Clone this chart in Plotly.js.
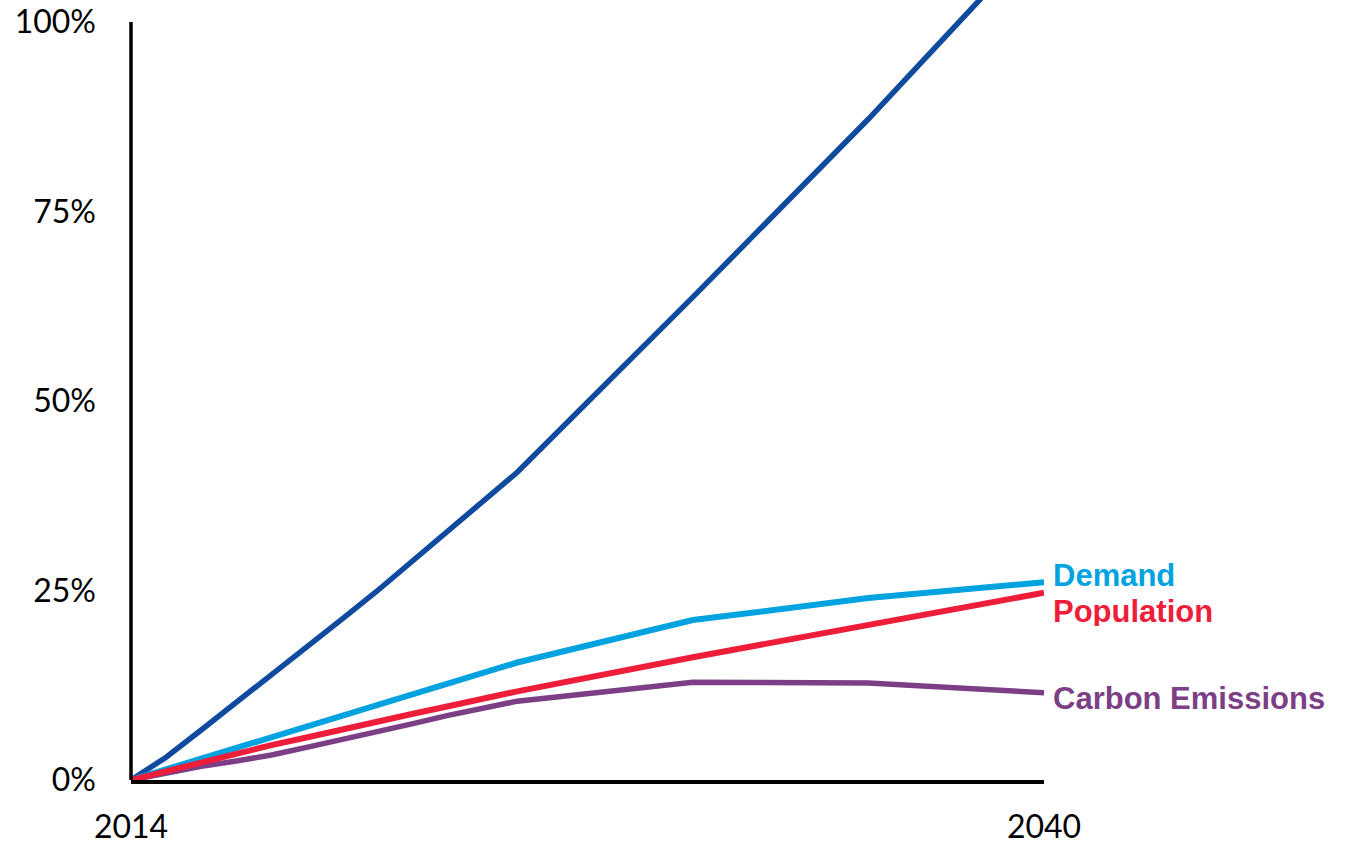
<!DOCTYPE html>
<html>
<head>
<meta charset="utf-8">
<script src="https://cdn.plot.ly/plotly-3.0.1.min.js"></script>
<style>html,body{margin:0;padding:0;background:#fff;}#chart{width:1348px;height:845px;}</style>
</head>
<body>
<div id="chart"></div>
<script>
var years = [2014, 2015, 2016, 2017, 2018, 2019, 2020, 2021, 2022, 2023, 2024, 2025, 2030, 2035, 2040];
var gdp        = [0, 0.030, 0.066, 0.102, 0.138, 0.175, 0.212, 0.249, 0.288, 0.326, 0.365, 0.406, 0.637, 0.872, 1.12];
var demand     = [0, 0.014, 0.028, 0.041, 0.055, 0.070, 0.085, 0.098, 0.112, 0.126, 0.140, 0.155, 0.211, 0.240, 0.261];
var population = [0, 0.012, 0.024, 0.035, 0.046, 0.056, 0.067, 0.077, 0.087, 0.097, 0.107, 0.117, 0.162, 0.204, 0.247];
var emissions  = [0, 0.009, 0.018, 0.025, 0.033, 0.043, 0.053, 0.063, 0.074, 0.085, 0.095, 0.104, 0.129, 0.128, 0.115];

var yTickVals = [0, 0.25, 0.5, 0.75, 1];
var yTickText = ['0%', '25%', '50%', '75%', '100%'];
var xTickVals = [2014, 2040];
var xTickText = ['2014', '2040'];

var cDark = '#0E4A9E', cDemand = '#00A3E0', cPop = '#EE1D3A', cEm = '#7C3F86';

var traces = [
  {x: years, y: gdp, mode: 'lines', line: {color: cDark, width: 5.5}, name: 'GDP', hoverinfo: 'skip'},
  {x: years, y: emissions, mode: 'lines', line: {color: cEm, width: 5.5}, name: 'Carbon Emissions', hoverinfo: 'skip'},
  {x: years, y: demand, mode: 'lines', line: {color: cDemand, width: 6}, name: 'Demand', hoverinfo: 'skip'},
  {x: years, y: population, mode: 'lines', line: {color: cPop, width: 6}, name: 'Population', hoverinfo: 'skip'}
];

var labelFont = {family: '"Liberation Sans", Arial, sans-serif', size: 31};
var last = years.length - 1;

var layout = {
  width: 1348, height: 845,
  margin: {l: 131, r: 304, t: 0, b: 65, pad: 0},
  paper_bgcolor: '#ffffff', plot_bgcolor: '#ffffff',
  showlegend: false,
  xaxis: {
    range: [2014, 2040], showgrid: false, zeroline: false,
    showline: true, linecolor: '#000000', linewidth: 3.5,
    tickmode: 'array', tickvals: xTickVals, ticktext: xTickText,
    ticks: '', ticklabelstandoff: 16,
    tickfont: {family: 'Lato, "Open Sans", sans-serif', size: 32, color: '#000000'}
  },
  yaxis: {
    range: [0, 1.029], showgrid: false, zeroline: false, showline: false,
    tickmode: 'array', tickvals: yTickVals, ticktext: yTickText,
    ticks: '', ticklabelstandoff: 34,
    tickfont: {family: 'Lato, "Open Sans", sans-serif', size: 32, color: '#000000'}
  },
  shapes: [
    {type: 'line', xref: 'paper', yref: 'y', x0: 0, x1: 0, y0: 0, y1: 1,
     line: {color: '#000000', width: 3.5}}
  ],
  annotations: [
    {x: years[last], y: demand[last], xref: 'x', yref: 'y', text: '<b>Demand</b>', showarrow: false,
     xanchor: 'left', yanchor: 'middle', xshift: 7, yshift: 7, height: 30, valign: 'middle',
     font: Object.assign({color: cDemand}, labelFont)},
    {x: years[last], y: population[last], xref: 'x', yref: 'y', text: '<b>Population</b>', showarrow: false,
     xanchor: 'left', yanchor: 'middle', xshift: 7, yshift: -18, height: 30, valign: 'middle',
     font: Object.assign({color: cPop}, labelFont)},
    {x: years[last], y: emissions[last], xref: 'x', yref: 'y', text: '<b>Carbon Emissions</b>', showarrow: false,
     xanchor: 'left', yanchor: 'middle', xshift: 7, yshift: -6,
     font: Object.assign({color: cEm}, labelFont)}
  ]
};

Plotly.newPlot('chart', traces, layout, {displayModeBar: false, staticPlot: true});
</script>
</body>
</html>
